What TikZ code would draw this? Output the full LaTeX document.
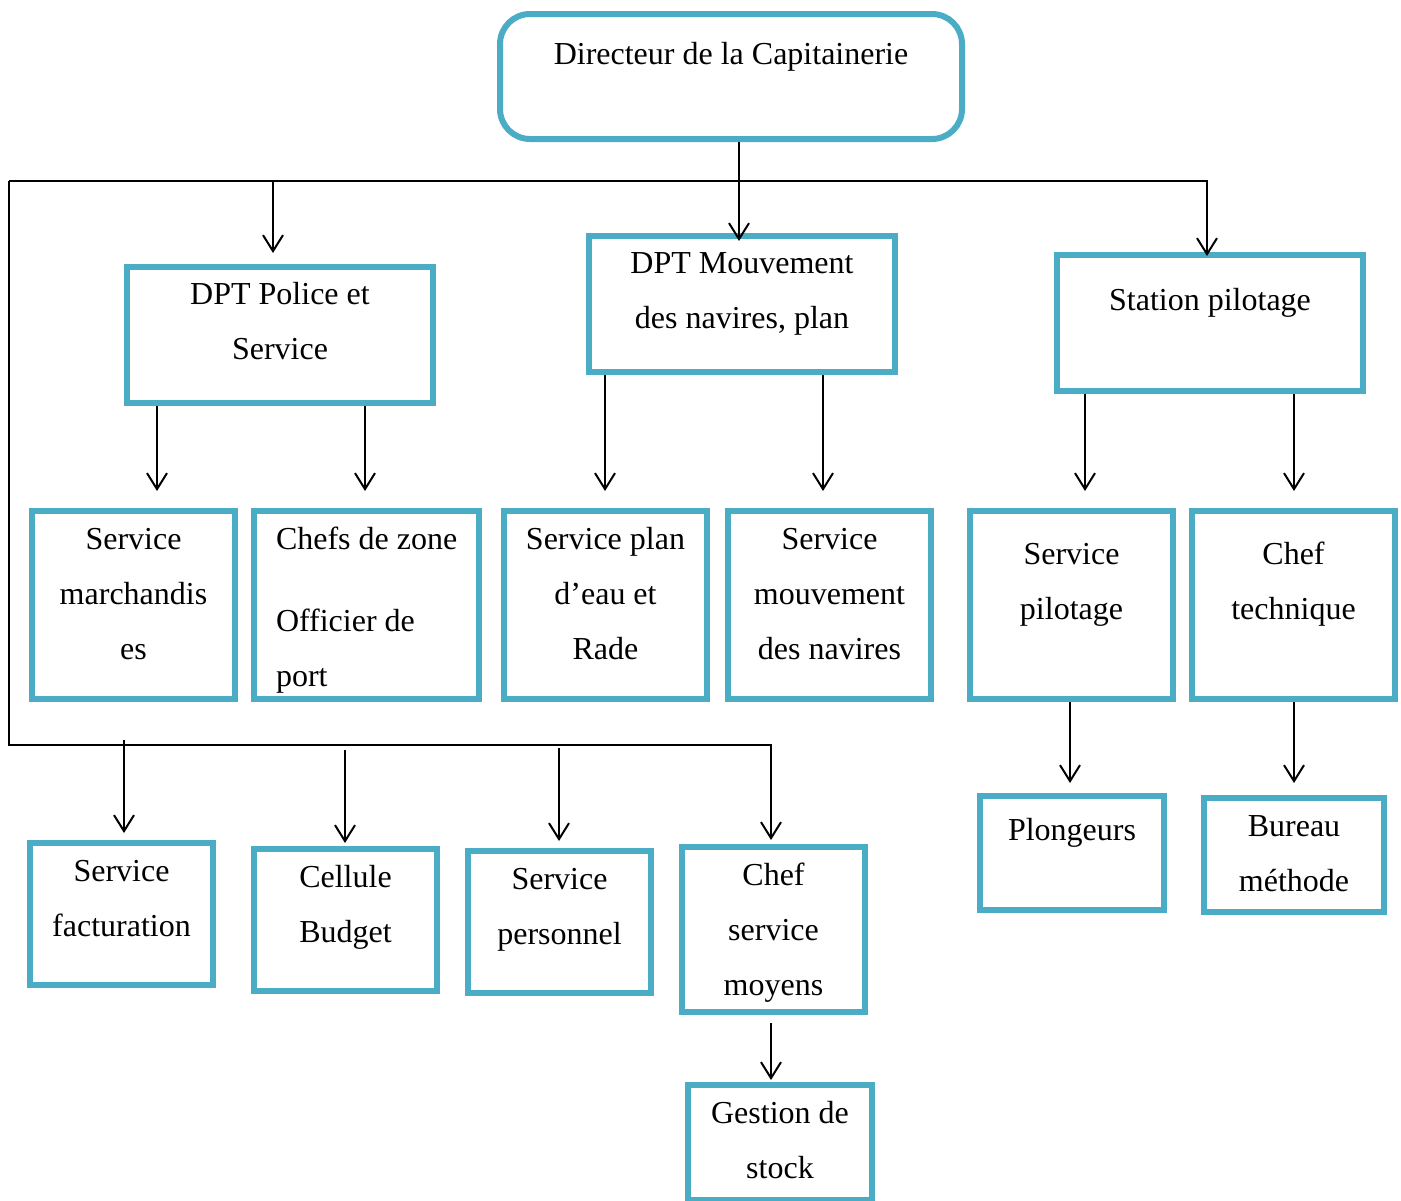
\documentclass[tikz,border=0pt]{standalone}
\usepackage{fontspec}
\setmainfont{Liberation Serif}
\usetikzlibrary{arrows.meta}

\definecolor{capblue}{RGB}{75,172,198}

\tikzset{
    box/.style={draw=capblue, line width=3pt, fill=white, inner sep=0pt,
        anchor=north, align=flush center, text height=20pt,
        font=\fontsize{16}{27.5}\selectfont},
    wire/.style={line width=1pt, black},
    arr/.style={wire, -{Straight Barb[length=8pt,width=10pt,line width=1pt]}}
}

\begin{document}
\begin{tikzpicture}[x=0.5pt,y=-0.5pt]
        \useasboundingbox (0,0) rectangle (1401,1200);

        \node[box, rounded corners=15pt, text width=231pt, text height=25pt, text depth=37.5pt] (dir) at (731,11) {Directeur de la Capitainerie};

        \node[box, text width=153pt, text height=18.5pt, text depth=49.5pt] (pol) at (280,264) {DPT Police et\\Service};
        \node[box, text width=153pt, text height=18.5pt, text depth=49.5pt] (mouv) at (742,233) {DPT Mouvement\\des navires, plan};
        \node[box, text width=153pt, text height=27.5pt, text depth=40.5pt] (sta) at (1210,252) {Station pilotage};

        \node[box, text width=101.5pt, text height=19pt, text depth=75pt] (march) at (133.5,508) {Service\\marchandis\\es};
        \node[box, align=flush left, text width=112.5pt, text height=19pt, text depth=75pt] (chefs) at (366.5,508) {\hspace*{11pt}Chefs de zone\\[13.5pt]\hspace*{11pt}Officier de\\\hspace*{11pt}port};
        \node[box, text width=101.5pt, text height=19pt, text depth=75pt] (plan) at (605.5,508) {Service plan\\d’eau et\\Rade};
        \node[box, text width=101.5pt, text height=19pt, text depth=75pt] (smouv) at (829.5,508) {Service\\mouvement\\des navires};
        \node[box, text width=101.5pt, text height=26.5pt, text depth=67.5pt] (spil) at (1071.5,508) {Service\\pilotage};
        \node[box, text width=101.5pt, text height=26.5pt, text depth=67.5pt] (ctech) at (1293.5,508) {Chef\\technique};

        \node[box, text width=92pt, text height=22pt, text depth=35pt] (plong) at (1072,793) {Plongeurs};
        \node[box, text width=90pt, text height=19pt, text depth=38pt] (bureau) at (1294,795) {Bureau\\méthode};

        \node[box, text width=91.5pt, text height=19pt, text depth=52pt] (fact) at (121.5,840) {Service\\facturation};
        \node[box, text width=91.5pt, text height=19pt, text depth=52pt] (budget) at (345.5,846) {Cellule\\Budget};
        \node[box, text width=91.5pt, text height=19pt, text depth=52pt] (perso) at (559.5,848) {Service\\personnel};
        \node[box, text width=91.5pt, text height=19pt, text depth=63.5pt] (moyens) at (773.5,844) {Chef\\service\\moyens};
        \node[box, text width=92pt, text height=19pt, text depth=38.5pt] (stock) at (780,1082) {Gestion de\\stock};

        \coordinate (busL) at (9,181);
        \coordinate (busB) at (9,745);

        \draw[arr, shorten >=-4pt] (dir.south -| 739,0) -- (mouv.north -| 739,0);
        \draw[arr, shorten >=-2pt] (busL) -| (sta.north -| 1207,0);
        \draw[arr, shorten >=5.5pt] (busL -| 273,0) -- (pol.north -| 273,0);
        \draw[arr, shorten >=2pt] (busL) -- (busB) -| (moyens.north -| 771,0);

        \draw[arr, shorten <=-2.5pt, shorten >=3.5pt] (busB -| 124,0) -- (fact.north -| 124,0);
        \draw[arr, shorten <=2.5pt, shorten >=1.5pt] (busB -| 345,0) -- (budget.north -| 345,0);
        \draw[arr, shorten <=1.5pt, shorten >=3.5pt] (busB -| 559,0) -- (perso.north -| 559,0);

        \foreach \p/\c/\x in {pol/march/157, pol/chefs/365, mouv/plan/605, mouv/smouv/823, sta/spil/1085, sta/ctech/1294}
        {
            \draw[arr, shorten >=8.5pt] (\p.south -| \x,0) -- (\c.north -| \x,0);
        }
        \draw[arr, shorten >=5pt] (spil.south -| 1070,0) -- (plong.north -| 1070,0);
        \draw[arr, shorten >=6pt] (ctech.south -| 1294,0) -- (bureau.north -| 1294,0);
        \draw[arr, shorten <=4pt, shorten >=1pt] (moyens.south -| 771,0) -- (stock.north -| 771,0);
    \end{tikzpicture}
\end{document}
